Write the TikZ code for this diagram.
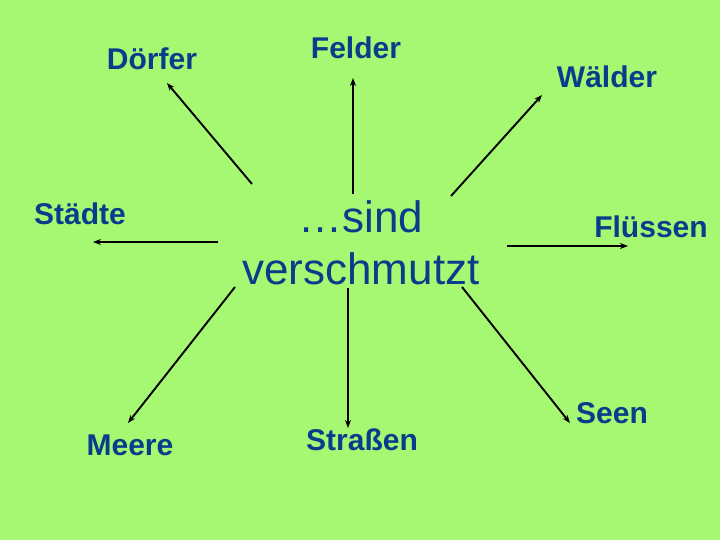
\documentclass[tikz,border=0pt]{standalone}
\usepackage{fontspec}
\setmainfont{Liberation Sans}
\usepackage{tikz}
\usetikzlibrary{arrows.meta}
\definecolor{wiesengruen}{HTML}{A6F872}
\definecolor{tintenblau}{HTML}{0A3C8C}

\begin{document}
\begin{tikzpicture}[x=1pt, y=-1pt,
  every node/.style={inner sep=0pt, text=tintenblau, font=\fontsize{30}{36}\selectfont\bfseries},
  wort/.style={anchor=base},
  mitte/.style={align=center, font=\fontsize{44}{52}\selectfont},
  pfeil/.style={draw=black, line width=1.9pt, -{Stealth[length=8pt,width=6pt]}}
]
\fill[wiesengruen] (0,0) rectangle (720,540);
\useasboundingbox (0,0) rectangle (720,540);

\node[mitte] (c) at (361,243) {…sind\\verschmutzt};

\node[wort] (dorf) at (152,70) {Dörfer};
\node[wort] (feld) at (356,59) {Felder};
\node[wort] (wald) at (607,88) {Wälder};
\node[wort] (stadt) at (80,225) {Städte};
\node[wort] (fluss) at (651,237) {Flüssen};
\node[wort] (meer) at (130,455) {Meere};
\node[wort] (strasse) at (362,450) {Straßen};
\node[wort] (see) at (612,423) {Seen};

% Pfeile vom Zentrum nach aussen
\coordinate (a-dorf) at (252,184);   \coordinate (e-dorf) at (167,83);
\coordinate (a-feld) at (353,194);   \coordinate (e-feld) at (353,78);
\coordinate (a-wald) at (451,196);   \coordinate (e-wald) at (542,95);
\coordinate (a-stadt) at (218,242);  \coordinate (e-stadt) at (93,242);
\coordinate (a-fluss) at (507,246);  \coordinate (e-fluss) at (628,246);
\coordinate (a-meer) at (235,287);   \coordinate (e-meer) at (128,423);
\coordinate (a-strasse) at (348,288); \coordinate (e-strasse) at (348,428);
\coordinate (a-see) at (462,287);    \coordinate (e-see) at (570,423);
\foreach \n in {dorf,feld,wald,stadt,fluss,meer,strasse,see}
  \draw[pfeil] (a-\n) -- (e-\n);
\end{tikzpicture}
\end{document}
